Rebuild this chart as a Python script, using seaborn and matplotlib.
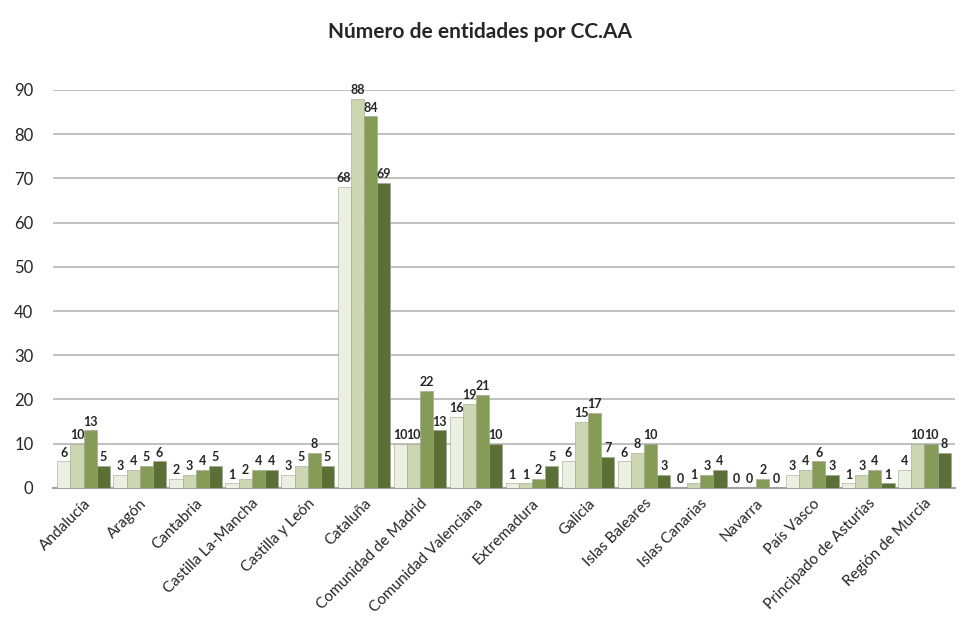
import pandas as pd
import matplotlib.pyplot as plt
import seaborn as sns

# Data
regiones = ["Andalucía", "Aragón", "Cantabria", "Castilla La-Mancha", "Castilla y León",
            "Cataluña", "Comunidad de Madrid", "Comunidad Valenciana", "Extremadura",
            "Galicia", "Islas Baleares", "Islas Canarias", "Navarra", "País Vasco",
            "Principado de Asturias", "Región de Murcia"]
series = ["Serie 1", "Serie 2", "Serie 3", "Serie 4"]
serie1 = [6, 3, 2, 1, 3, 68, 10, 16, 1, 6, 6, 0, 0, 3, 1, 4]
serie2 = [10, 4, 3, 2, 5, 88, 10, 19, 1, 15, 8, 1, 0, 4, 3, 10]
serie3 = [13, 5, 4, 4, 8, 84, 22, 21, 2, 17, 10, 3, 2, 6, 4, 10]
serie4 = [5, 6, 5, 4, 5, 69, 13, 10, 5, 7, 3, 4, 0, 3, 1, 8]
colores = ["#eef2df", "#cfdcaa", "#8aa84a", "#5d7a2c"]

df = pd.DataFrame({"Región": regiones, "Serie 1": serie1, "Serie 2": serie2,
                   "Serie 3": serie3, "Serie 4": serie4})
df_long = df.melt(id_vars="Región", var_name="Serie", value_name="Entidades")

sns.set_style("white")
plt.rcParams["font.family"] = ["Lato", "DejaVu Sans"]

fig = plt.figure(figsize=(9.6, 6.42), dpi=100)
ax = fig.add_axes([0.055, 0.24, 0.94, 0.62])

sns.barplot(data=df_long, x="Región", y="Entidades", hue="Serie", hue_order=series,
            palette=colores, width=0.94, edgecolor="#9aa58a", linewidth=0.4,
            legend=False, ax=ax, zorder=3)

for cont in ax.containers:
    ax.bar_label(cont, fmt="%d", fontsize=9, fontweight="bold", padding=2)

ax.set_ylim(0, 90)
ax.set_yticks(range(0, 91, 10))
ax.yaxis.grid(True, color="#b5b5b5", linewidth=1.2, zorder=0)
ax.set_xlim(-0.55, len(regiones) - 0.45)
ax.set_xlabel("")
ax.set_ylabel("")
for s in ["top", "right", "left"]:
    ax.spines[s].set_visible(False)
ax.spines["bottom"].set_color("#a0a0a0")
ax.spines["bottom"].set_linewidth(1.5)
ax.tick_params(axis="y", labelsize=12, length=0, pad=14)
ax.tick_params(axis="x", labelsize=11, length=0, pad=6)
plt.setp(ax.get_xticklabels(), rotation=45, ha="right", rotation_mode="anchor")

fig.suptitle("Número de entidades por CC.AA", fontsize=15, fontweight="bold", y=0.965)

fig.savefig("out.png", dpi=100)
